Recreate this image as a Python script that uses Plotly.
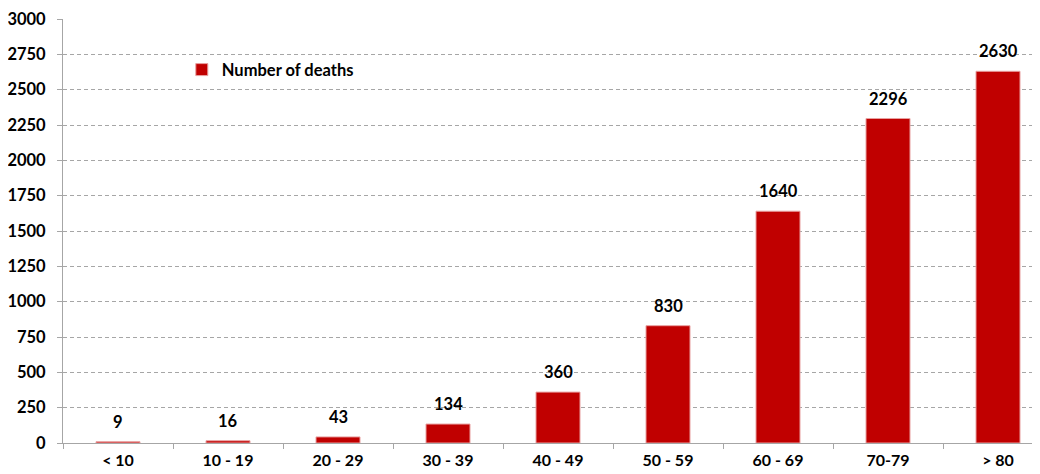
import plotly.graph_objects as go

categories = ["< 10", "10 - 19", "20 - 29", "30 - 39", "40 - 49", "50 - 59", "60 - 69", "70-79", "> 80"]
deaths = [9, 16, 43, 134, 360, 830, 1640, 2296, 2630]
y_ticks = [0, 250, 500, 750, 1000, 1250, 1500, 1750, 2000, 2250, 2500, 2750, 3000]

font_family = "Lato, Open Sans, sans-serif"
FS = 16.5

fig = go.Figure()
fig.add_trace(go.Bar(
    x=categories, y=deaths, name="Number of deaths",
    marker=dict(color="#C00000", line=dict(color="#E8A0A0", width=1)),
))
for c, v in zip(categories, deaths):
    fig.add_annotation(x=c, y=v, text=str(v), showarrow=False,
                       yanchor="bottom", yshift=8,
                       font=dict(family=font_family, size=FS, color="#000000", weight="bold"))

fig.update_layout(
    width=1047, height=466,
    margin=dict(l=55, r=2, t=11, b=31),
    plot_bgcolor="white", paper_bgcolor="white",
    bargap=0.6,
    showlegend=True,
    legend=dict(x=0.12, y=0.88, xanchor="left", yanchor="middle",
                bgcolor="rgba(0,0,0,0)",
                font=dict(family=font_family, size=FS, color="#000000", weight="bold"),
                itemwidth=30),
    font=dict(family=font_family, size=FS, color="#000000"),
)
fig.update_xaxes(
    automargin=False,
    showline=True, linecolor="#A6A6A6", linewidth=1,
    ticks="outside", ticklen=5, tickcolor="#A6A6A6", tickson="boundaries",
    ticklabelstandoff=3,
    tickfont=dict(family=font_family, size=16, color="#000000", weight="bold"),
    showgrid=False,
)
fig.update_yaxes(
    automargin=False,
    range=[0, 3000], tickvals=y_ticks,
    showline=True, linecolor="#A6A6A6", linewidth=1,
    ticks="outside", ticklen=5, tickcolor="#A6A6A6",
    ticklabelstandoff=8,
    showgrid=True, gridcolor="#A6A6A6", griddash="4px,3px", gridwidth=1,
    tickfont=dict(family=font_family, size=FS, color="#000000", weight="bold"),
    zeroline=False,
)

fig.write_html("out.html")
